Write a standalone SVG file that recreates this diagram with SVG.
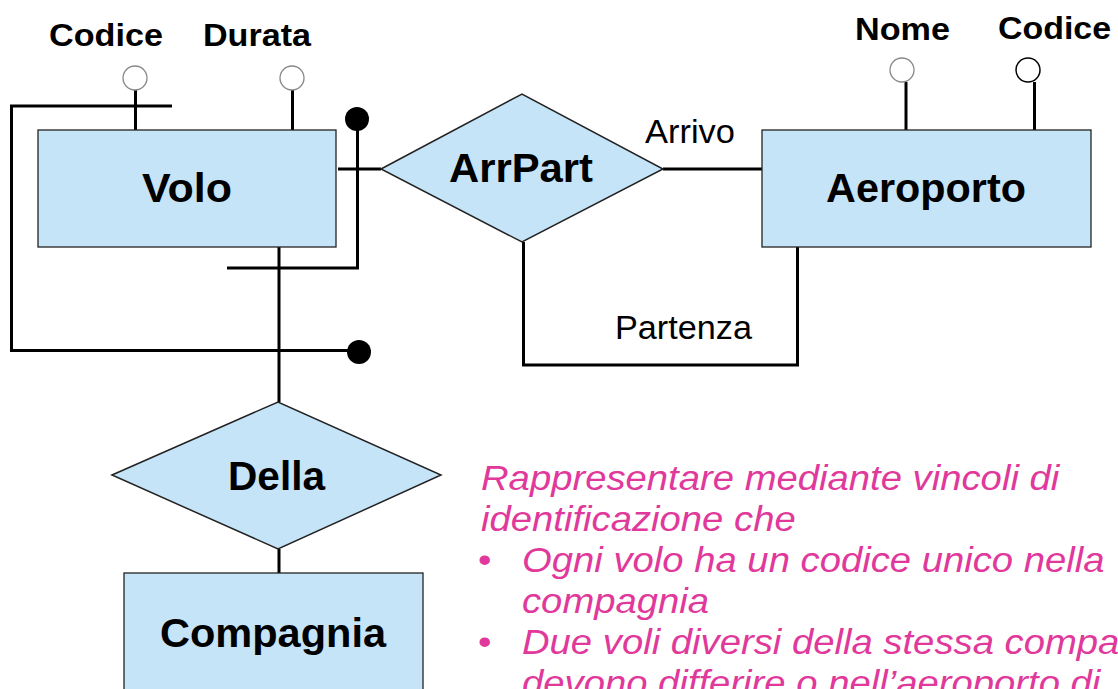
<svg xmlns="http://www.w3.org/2000/svg" width="1118" height="689" viewBox="0 0 1118 689">
<style>
.ent{fill:#C6E4F8;stroke:#222;stroke-width:1.3}
.rel{fill:#C6E4F8;stroke:#222;stroke-width:1.5}
.ln{fill:none;stroke:#000;stroke-width:3}
.attr{fill:#fff;stroke:#888;stroke-width:1.3}
.big{font-family:"Liberation Sans",Arial,sans-serif;font-weight:bold;font-size:40px;fill:#000;text-anchor:middle}
.lab{font-family:"Liberation Sans",Arial,sans-serif;font-weight:bold;font-size:32px;fill:#000}
.role{font-family:"Liberation Sans",Arial,sans-serif;font-size:33px;fill:#000}
.note{font-family:"Liberation Sans",Arial,sans-serif;font-style:italic;font-size:35px;fill:#E0399B}
</style>
<rect width="1118" height="689" fill="#fff"/>
<g id="connectors">
<line class="ln" x1="135.5" y1="90" x2="135.5" y2="130"/>
<line class="ln" x1="292.5" y1="90" x2="292.5" y2="130"/>
<line class="ln" x1="906" y1="82" x2="906" y2="130"/>
<line class="ln" x1="1034.5" y1="82" x2="1034.5" y2="130"/>
<polyline class="ln" points="172,106 11.5,106 11.5,350.5 350,350.5"/>
<polyline class="ln" points="357.5,125 357.5,268 227,268"/>
<line class="ln" x1="338" y1="169" x2="381" y2="169"/>
<line class="ln" x1="279" y1="247" x2="279" y2="402"/>
<line class="ln" x1="663" y1="169" x2="762" y2="169"/>
<polyline class="ln" points="523.5,242 523.5,365 797.5,365 797.5,247"/>
<line class="ln" x1="279" y1="549" x2="279" y2="573"/>
<circle cx="357" cy="119" r="12" fill="#000"/>
<circle cx="359" cy="352" r="12" fill="#000"/>
</g>
<g id="attr-codice-volo"><circle class="attr" cx="135" cy="78" r="12"/><text class="lab" x="49" y="46" textLength="114" lengthAdjust="spacingAndGlyphs">Codice</text></g>
<g id="attr-durata"><circle class="attr" cx="292" cy="78" r="12"/><text class="lab" x="203" y="46" textLength="108" lengthAdjust="spacingAndGlyphs">Durata</text></g>
<g id="attr-nome"><circle class="attr" cx="902" cy="70" r="12"/><text class="lab" x="855" y="40" textLength="95" lengthAdjust="spacingAndGlyphs">Nome</text></g>
<g id="attr-codice-aeroporto"><circle cx="1028" cy="70" r="12" fill="#fff" stroke="#000" stroke-width="1.5"/><text class="lab" x="998" y="39" textLength="113" lengthAdjust="spacingAndGlyphs">Codice</text></g>
<g id="volo"><rect class="ent" x="38" y="130" width="298" height="117"/><text class="big" x="187" y="202" textLength="90" lengthAdjust="spacingAndGlyphs">Volo</text></g>
<g id="arrpart"><polygon class="rel" points="381,169 522,94 663,169 522,242"/><text class="big" x="521" y="182" textLength="144" lengthAdjust="spacingAndGlyphs">ArrPart</text></g>
<g id="aeroporto"><rect class="ent" x="762" y="130" width="329" height="117"/><text class="big" x="926" y="202" textLength="200" lengthAdjust="spacingAndGlyphs">Aeroporto</text></g>
<g id="della"><polygon class="rel" points="112,475 278,402 441,475 278,549"/><text class="big" x="276.5" y="490" textLength="97" lengthAdjust="spacingAndGlyphs">Della</text></g>
<g id="compagnia"><rect class="ent" x="124" y="573" width="299" height="130"/><text class="big" x="273" y="647" textLength="226" lengthAdjust="spacingAndGlyphs">Compagnia</text></g>
<g id="roles"><text class="role" x="645" y="143" textLength="90" lengthAdjust="spacingAndGlyphs">Arrivo</text><text class="role" x="615" y="339" textLength="137" lengthAdjust="spacingAndGlyphs">Partenza</text></g>
<g id="note" transform="translate(481,0) scale(1.093,1) translate(-481,0)">
<text class="note" x="481" y="490">Rappresentare mediante vincoli di</text>
<text class="note" x="481" y="531">identificazione che</text>
<text class="note" x="478" y="572">•</text>
<text class="note" x="518.5" y="572">Ogni volo ha un codice unico nella</text>
<text class="note" x="518.5" y="613">compagnia</text>
<text class="note" x="478" y="654">•</text>
<text class="note" x="518.5" y="654">Due voli diversi della stessa compagnia</text>
<text class="note" x="518.5" y="695">devono differire o nell’aeroporto di</text>
</g>
</svg>
